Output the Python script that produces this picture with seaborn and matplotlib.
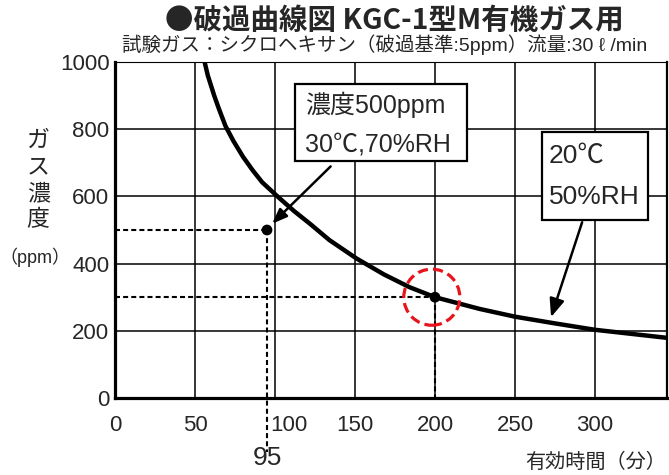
import matplotlib
matplotlib.use('Agg')
import matplotlib.pyplot as plt
import seaborn as sns
import numpy as np
import pandas as pd
from matplotlib import font_manager
from matplotlib.patches import Rectangle, Ellipse
from matplotlib.transforms import ScaledTranslation

# breakthrough curve (minutes, ppm)
time_min = [56, 58, 62, 65, 69, 74, 80, 86, 92, 102, 112, 122, 134, 151, 168, 184, 200, 228, 250, 275, 300, 345]
conc_ppm = [1000, 960, 900, 860, 810, 765, 718, 678, 642, 598, 556, 518, 470, 415, 368, 330, 300, 265, 242, 222, 203, 179]

# marked points
pt_time = [95, 200]
pt_conc = [500, 300]

x_ticks = [0, 50, 100, 150, 200, 250, 300]
y_ticks = [0, 200, 400, 600, 800, 1000]

sns.set_style('white')
installed = {f.name for f in font_manager.fontManager.ttflist}
narrow = 'Liberation Sans Narrow' if 'Liberation Sans Narrow' in installed else 'Liberation Sans'
plt.rcParams['font.family'] = [narrow, 'Noto Sans CJK JP', 'DejaVu Sans']

fig = plt.figure(figsize=(6.69, 4.75), dpi=100)
ax = fig.add_axes([115 / 669, 1 - 398 / 475, 552 / 669, 336 / 475])
ax.set_xlim(0, 345)
ax.set_ylim(0, 1000)

# grid
for xv in x_ticks[1:]:
    ax.axvline(xv, color='black', lw=1.1, zorder=1)
for yv in y_ticks[1:-1]:
    ax.axhline(yv, color='black', lw=1.1, zorder=1)

df = pd.DataFrame({'time': time_min, 'conc': conc_ppm})
sns.lineplot(data=df, x='time', y='conc', color='black', lw=3.2, ax=ax, zorder=3)

# dotted guides
dots = (0, (2.4, 1.5))
ax.plot([0, pt_time[0]], [pt_conc[0]] * 2, color='black', lw=1.5, ls=dots, zorder=2)
ax.plot([pt_time[0]] * 2, [pt_conc[0], -160], color='black', lw=1.5, ls=dots, zorder=2, clip_on=False)
ax.plot([0, pt_time[1]], [pt_conc[1]] * 2, color='black', lw=1.5, ls=dots, zorder=2)
ax.plot([pt_time[1]] * 2, [pt_conc[1], 0], color='black', lw=1.5, ls=dots, zorder=2)

sns.scatterplot(x=pt_time, y=pt_conc, color='black', s=60, edgecolor='none', ax=ax, zorder=4)

# red dashed circle around 200 min point
ax.add_patch(Ellipse((pt_time[1] - 2, pt_conc[1]), 35, 167, fill=False, ec='#e8141b',
                     lw=2.3, ls=(0, (3.2, 1.6)), zorder=5))

# annotation boxes
ax.add_patch(Rectangle((112.5, 704), 107.5, 230, fc='white', ec='black', lw=1.6, zorder=6))
ax.text(119, 872, '濃度500ppm', fontsize=18, va='center', ha='left', zorder=7)
ax.text(119, 755, '30℃,70%RH', fontsize=18, va='center', ha='left', zorder=7)
ax.annotate('', xy=(97, 513), xytext=(136, 695),
            arrowprops=dict(arrowstyle='-|>,head_length=0.9,head_width=0.35', color='black', lw=1.8),
            zorder=6)

ax.add_patch(Rectangle((267, 531), 66, 260, fc='white', ec='black', lw=1.6, zorder=6))
ax.text(271, 722, '20℃', fontsize=19, va='center', ha='left', zorder=7)
ax.text(271, 597, '50%RH', fontsize=19, va='center', ha='left', zorder=7)
ax.annotate('', xy=(272, 233), xytext=(292.5, 531),
            arrowprops=dict(arrowstyle='-|>,head_length=1.1,head_width=0.45', color='black', lw=1.8),
            zorder=6)

# axes styling
ax.set_xticks(x_ticks)
ax.set_yticks(y_ticks)
ax.tick_params(axis='both', length=0, labelsize=16)
ax.tick_params(axis='x', pad=12)
ax.tick_params(axis='y', pad=4)
for lbl in ax.get_xticklabels():
    if lbl.get_text() == '100':
        lbl.set_transform(lbl.get_transform() + ScaledTranslation(0.14, 0, fig.dpi_scale_trans))
ax.set_xlabel('')
ax.set_ylabel('')
ax.spines['left'].set_linewidth(2.3)
ax.spines['bottom'].set_linewidth(2.3)
ax.spines['right'].set_linewidth(1.6)
ax.spines['top'].set_linewidth(0.8)
for s in ax.spines.values():
    s.set_color('black')

ax.text(pt_time[0], -0.18, '95', fontsize=19, ha='center', va='center',
        transform=ax.get_xaxis_transform())

fig.text(394 / 669, 1 - 21 / 475, '●破過曲線図 KGC-1型M有機ガス用', fontsize=20.5,
         fontweight='bold', ha='center', va='center', family=['Noto Sans CJK JP', 'DejaVu Sans'])
fig.text(385 / 669, 1 - 45 / 475, '試験ガス：シクロヘキサン（破過基準:5ppm）流量:30 ℓ /min',
         fontsize=14, ha='center', va='center')
fig.text(38 / 669, 1 - 180 / 475, 'ガ\nス\n濃\n度', fontsize=16.5, ha='center', va='center',
         linespacing=1.2)
fig.text(35 / 669, 1 - 257 / 475, '（ppm）', fontsize=13, ha='center', va='center')
fig.text(596 / 669, 1 - 462 / 475, '有効時間（分）', fontsize=14.5, ha='center', va='center')

fig.savefig('out.png', dpi=100)
